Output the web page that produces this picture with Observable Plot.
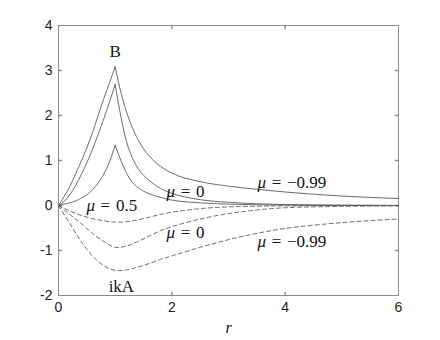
<!DOCTYPE html>
<html><head><meta charset="utf-8">
<script src="https://cdn.jsdelivr.net/npm/d3@7"></script>
<script src="https://cdn.jsdelivr.net/npm/@observablehq/plot@0.6"></script>
<style>body{margin:0;background:#fff}</style>
</head><body><div id="chart"></div>
<script>
// tick values
const xTicks = [0, 2, 4, 6];
const yTicks = [-2, -1, 0, 1, 2, 3, 4];
const xInnerTicks = [2, 4];
const yInnerTicks = [-1, 0, 1, 2, 3];

// solid curves (B), left of r = 1
const rLeft = [0, 0.1, 0.2, 0.3, 0.4, 0.5, 0.6, 0.7, 0.8, 0.9, 1.0];
const bMuM099Left = [0, 0.2, 0.42, 0.70, 0.98, 1.28, 1.62, 2.0, 2.38, 2.73, 3.08];
const bMu0Left = [0, 0.09, 0.24, 0.44, 0.68, 0.95, 1.25, 1.58, 1.93, 2.30, 2.69];
const bMu05Left = [0, 0.03, 0.06, 0.10, 0.16, 0.24, 0.35, 0.50, 0.70, 0.97, 1.34];

// solid curves (B), right of r = 1
const rRight = [1.0, 1.1, 1.2, 1.3, 1.4, 1.6, 1.8, 2.0, 2.5, 3.0, 3.5, 4.0, 5.0, 6.0];
const bMuM099Right = [3.08, 2.52, 2.08, 1.74, 1.47, 1.10, 0.87, 0.72, 0.53, 0.43, 0.36, 0.30, 0.21, 0.155];
const bMu0Right = [2.69, 1.98, 1.42, 1.07, 0.83, 0.56, 0.38, 0.27, 0.13, 0.07, 0.04, 0.02, 0.01, 0];
const bMu05Right = [1.34, 1.0, 0.72, 0.52, 0.40, 0.26, 0.18, 0.12, 0.06, 0.03, 0.015, 0.01, 0, 0];

// dashed curves (ikA)
const rDash = [0, 0.2, 0.4, 0.6, 0.8, 1.0, 1.2, 1.4, 1.6, 1.8, 2.0, 2.5, 3.0, 3.5, 4.0, 5.0, 6.0];
const aMu05 = [0, -0.12, -0.22, -0.29, -0.34, -0.37, -0.36, -0.32, -0.26, -0.20, -0.15, -0.07, -0.03, -0.015, -0.01, 0, 0];
const aMu0 = [0, -0.20, -0.40, -0.62, -0.80, -0.93, -0.90, -0.80, -0.68, -0.56, -0.47, -0.30, -0.18, -0.10, -0.05, -0.02, -0.01];
const aMuM099 = [0, -0.40, -0.80, -1.12, -1.34, -1.44, -1.43, -1.37, -1.29, -1.20, -1.12, -0.93, -0.76, -0.62, -0.51, -0.38, -0.30];

// annotations
const labelText = ["B", "μ\u2004=\u2004−0.99", "μ\u2004=\u20040", "μ\u2004=\u20040.5", "μ\u2004=\u20040", "μ\u2004=\u2004−0.99", "ikA"];
const labelR = [1.0, 4.12, 2.24, 0.94, 2.24, 4.12, 1.11];
const labelV = [3.43, 0.51, 0.30, 0.01, -0.59, -0.79, -1.81];
const xLabel = "r";

const solid = [];
const dashed = [];
function add(arr, key, rs, vs) { rs.forEach((r, i) => arr.push({key, r, v: vs[i]})); }
add(solid, "m099L", rLeft, bMuM099Left);
add(solid, "m099R", rRight, bMuM099Right);
add(solid, "0L", rLeft, bMu0Left);
add(solid, "0R", rRight, bMu0Right);
add(solid, "05L", rLeft, bMu05Left);
add(solid, "05R", rRight, bMu05Right);
add(dashed, "05", rDash, aMu05);
add(dashed, "0", rDash, aMu0);
add(dashed, "m099", rDash, aMuM099);

const labels = labelText.map((t, i) => ({t, r: labelR[i], v: labelV[i]}));

const tickShape = {draw(ctx, l) { ctx.moveTo(0, 0); ctx.lineTo(0, -l); }};
const frameColor = "#8a8a8a";
const lineColor = "#5a5a5a";

const chart = Plot.plot({
  width: 440, height: 340,
  marginLeft: 58, marginRight: 42, marginTop: 25, marginBottom: 45,
  style: {fontFamily: "'Liberation Sans', Arial, sans-serif", fontSize: "14px", color: "#222", background: "#fff"},
  x: {domain: [0, 6]},
  y: {domain: [-2, 4]},
  marks: [
    Plot.frame({stroke: frameColor}),
    Plot.vector(xInnerTicks, {x: d => d, frameAnchor: "bottom", length: 3, rotate: 0, anchor: "start", shape: tickShape, stroke: frameColor}),
    Plot.vector(xInnerTicks, {x: d => d, frameAnchor: "top", length: 3, rotate: 180, anchor: "start", shape: tickShape, stroke: frameColor}),
    Plot.vector(yInnerTicks, {y: d => d, frameAnchor: "left", length: 3, rotate: 90, anchor: "start", shape: tickShape, stroke: frameColor}),
    Plot.vector(yInnerTicks, {y: d => d, frameAnchor: "right", length: 3, rotate: -90, anchor: "start", shape: tickShape, stroke: frameColor}),
    Plot.axisX(xTicks, {tickSize: 0, tickPadding: 7, label: null, tickFormat: d => String(d), fontSize: 14}),
    Plot.axisY(yTicks, {tickSize: 0, tickPadding: 6, label: null, tickFormat: d => String(d), fontSize: 14}),
    Plot.line(solid, {x: "r", y: "v", z: "key", curve: "monotone-x", stroke: lineColor, strokeWidth: 0.9}),
    Plot.line(dashed, {x: "r", y: "v", z: "key", curve: "catmull-rom", stroke: lineColor, strokeWidth: 0.9, strokeDasharray: "4,3"}),
    Plot.text(labels, {x: "r", y: "v", text: "t", fontFamily: "'Liberation Serif', 'DejaVu Serif', serif", fontSize: 17, fill: "#111", className: "annot"}),
    Plot.text([xLabel], {text: d => d, frameAnchor: "bottom", dy: 37, fontFamily: "'Liberation Serif', serif", fontStyle: "italic", fontSize: 16, fill: "#111"})
  ]
});

chart.querySelectorAll(".annot text").forEach(el => {
  const s = el.textContent;
  if (s.startsWith("μ")) {
    el.textContent = "";
    const ns = "http://www.w3.org/2000/svg";
    const a = document.createElementNS(ns, "tspan");
    a.setAttribute("font-style", "italic");
    a.textContent = "μ";
    const b = document.createElementNS(ns, "tspan");
    b.textContent = s.slice(1);
    el.appendChild(a); el.appendChild(b);
  }
});
document.getElementById("chart").appendChild(chart);
</script>
</body></html>
